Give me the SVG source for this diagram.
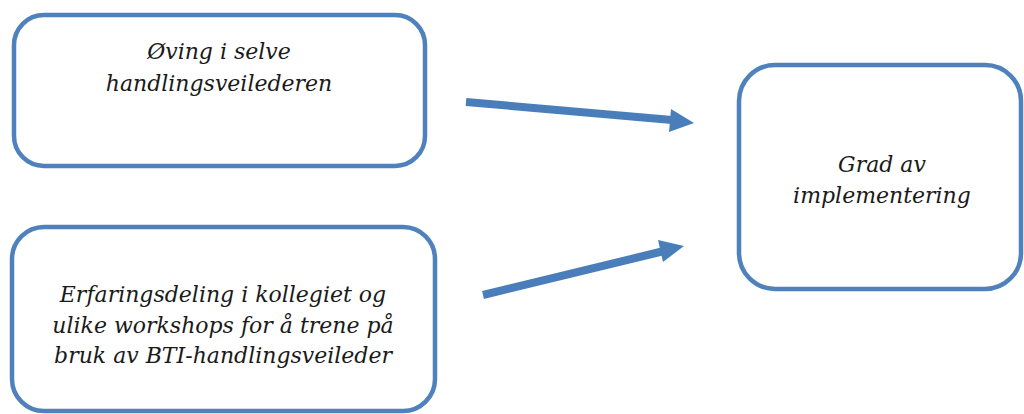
<svg xmlns="http://www.w3.org/2000/svg" width="1024" height="414" viewBox="0 0 1024 414">
  <style>
    .box { fill: #ffffff; stroke: #4f81bd; stroke-width: 4.5; }
    .lbl { font-family: "DejaVu Serif", "Liberation Serif", serif; font-style: italic; font-size: 22px; fill: #1a1a1a; text-anchor: middle; }
    .link { stroke: #4a7ebb; stroke-width: 8; fill: none; }
    .head { fill: #4a7ebb; }
  </style>
  <rect width="1024" height="414" fill="#ffffff"/>

  <g id="node-oving">
    <rect class="box" x="14" y="15" width="411" height="151" rx="30" ry="30"/>
    <text class="lbl" x="219" y="59">Øving i selve</text>
    <text class="lbl" x="219" y="91">handlingsveilederen</text>
  </g>

  <g id="node-erfaring">
    <rect class="box" x="12" y="227" width="423" height="184" rx="32" ry="32"/>
    <text class="lbl" x="223" y="302">Erfaringsdeling i kollegiet og</text>
    <text class="lbl" x="223" y="333">ulike workshops for å trene på</text>
    <text class="lbl" x="223" y="363">bruk av BTI-handlingsveileder</text>
  </g>

  <g id="node-grad">
    <rect class="box" x="739" y="65" width="282" height="224" rx="36" ry="36"/>
    <text class="lbl" x="882" y="172">Grad av</text>
    <text class="lbl" x="882" y="203">implementering</text>
  </g>

  <g id="connectors">
    <line class="link" x1="466" y1="102" x2="672" y2="120"/>
    <polygon class="head" points="694,123 669,132 671,109"/>
    <line class="link" x1="483" y1="295" x2="664" y2="251"/>
    <polygon class="head" points="684,246 663,262 658,240"/>
  </g>
</svg>
